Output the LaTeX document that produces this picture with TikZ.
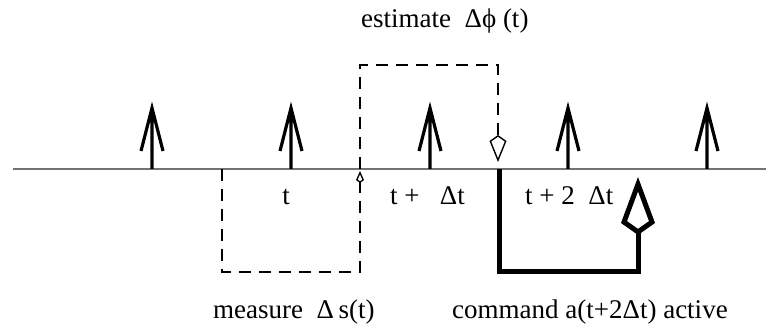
\documentclass[tikz,border=0pt]{standalone}
\usepackage{fontspec}
\setmainfont{Liberation Serif}
\usepackage{xcolor}
\colorlet{axisgray}{black!55}
\usepackage{tikz}
\usetikzlibrary{arrows.meta}

\tikzset{
  axisline/.style={draw=axisgray, line width=2pt},
  tickarrow/.style={line width=3.2pt, miter limit=10},
  measurepath/.style={line width=1.3pt, dash pattern=on 12pt off 8pt,
    -{Kite[open, length=12pt, width=8pt, inset=3pt]}},
  estimatepath/.style={line width=1.4pt, dash pattern=on 12pt off 8pt,
    -{Kite[open, length=27pt, width=17pt, inset=6pt]}},
  commandpath/.style={line width=5pt,
    -{Kite[open, length=58pt, width=34pt, inset=12pt]}},
  lbl/.style={inner sep=0pt, anchor=base west},
}

\begin{document}
\begin{tikzpicture}[x=1pt, y=-1pt, font=\fontsize{27}{32}\selectfont]
  \useasboundingbox (0,0) rectangle (766,331);

  \draw[axisline] (13,169) -- (766,169);
  \foreach \x in {152,291,430,568,707}{
    \draw[tickarrow] (\x-11,151) -- (\x,108) -- (\x+11,151) (\x,108) -- (\x,169);
  }

  % measure loop below the axis
  \coordinate (Mstart) at (222,169);
  \coordinate (Mend) at (360,171);
  \draw[measurepath] (Mstart) -- (222,272) -- (360,272) -- (Mend);

  % estimate loop above the axis
  \coordinate (Estart) at (360,169);
  \coordinate (Eend) at (498,162);
  \draw[estimatepath] (Estart) -- (360,65) -- (498,65) -- (Eend);

  % command path
  \coordinate (Cstart) at (499,169);
  \coordinate (Cend) at (638,177);
  \draw[commandpath] (Cstart) -- (499,272) -- (638,272) -- (Cend);

  \node[lbl] (estlbl) at (361,28) {estimate\ \ Δϕ\ (t)};
  \node[inner sep=0pt, anchor=base] (tlbl) at (286,205) {t};
  \node[lbl] (tonelbl) at (390,205) {t +\ \ \ Δt};
  \node[lbl] (ttwolbl) at (525,205) {t + 2\ \ Δt};
  \node[lbl] (measlbl) at (213,318) {measure\ \ Δ\,s(t)};
  \node[lbl] (cmdlbl) at (452,318) {command a(t+2Δt) active};
\end{tikzpicture}
\end{document}
